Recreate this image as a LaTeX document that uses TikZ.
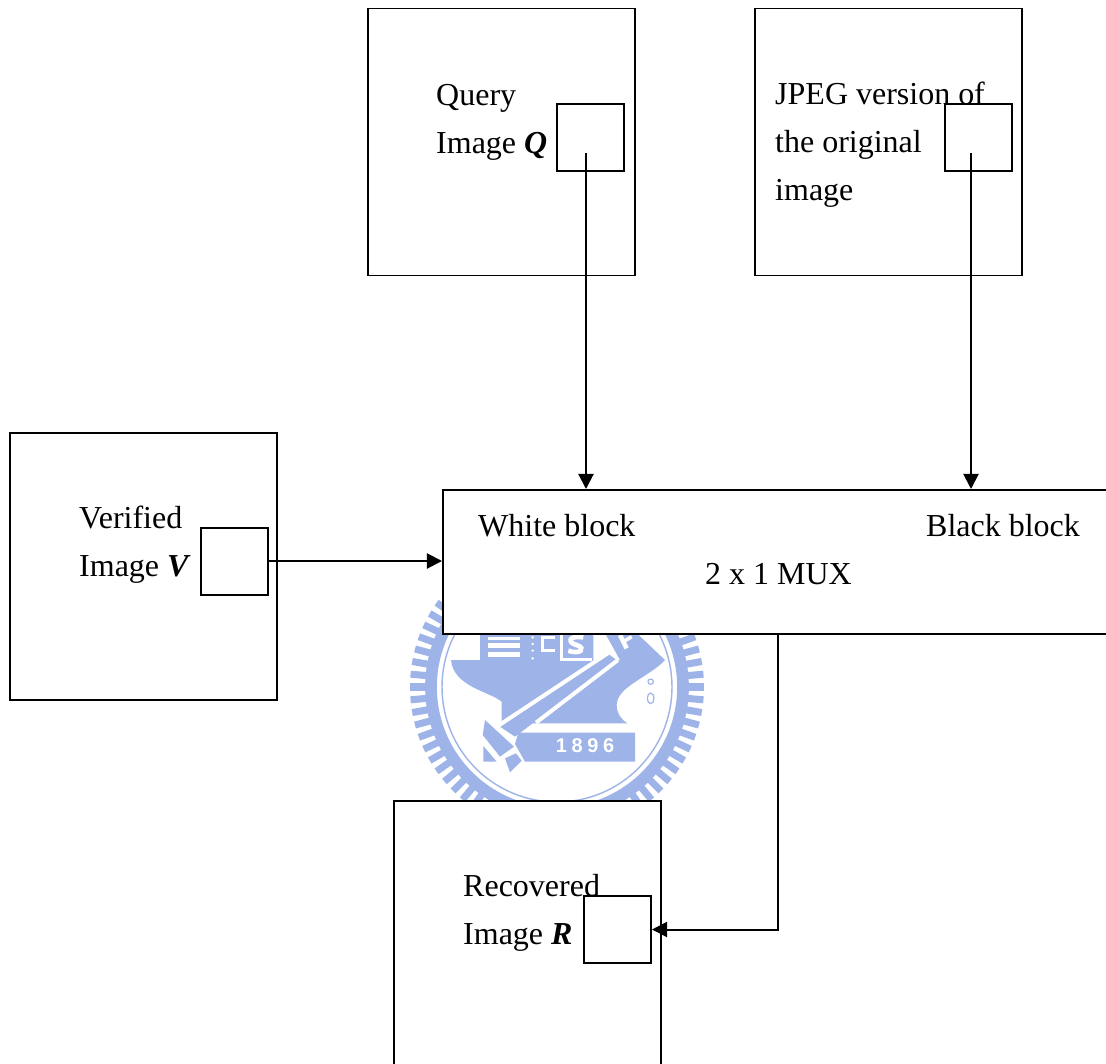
\documentclass[tikz,border=0pt]{standalone}
\usepackage{fontspec}
\setmainfont{Liberation Serif}
\newfontfamily\badgefont{Liberation Sans}
\usetikzlibrary{arrows.meta}
\definecolor{badgeblue}{RGB}{158,180,232}
\tikzset{
  imagebox/.style={draw, line width=1.7pt, fill=white, minimum size=267*0.03cm, inner sep=0pt},
  blockbox/.style={draw, line width=1.7pt, minimum size=67*0.03cm, inner sep=0pt},
  muxbox/.style={draw, line width=1.7pt, fill=white, minimum width=700*0.03cm, minimum height=144*0.03cm, inner sep=0pt},
  label/.style={anchor=base west, inner sep=0pt, font=\fontsize{27.3}{30}\selectfont},
  link/.style={line width=1.7pt, -{Triangle[length=13pt,width=13pt]}}
}
\begin{document}
\begin{tikzpicture}[x=0.03cm, y=-0.03cm]
  \useasboundingbox (0,0) rectangle (1106,1064);
  \fill[white] (0,0) rectangle (1106,1064);

  % Watermark behind the boxes
  \begin{scope}[badgeblue]
    \foreach \a in {0,5,...,355}
      \draw[line width=6pt] (557+147*cos \a, 687+147*sin \a) -- (557+125*cos \a, 687+125*sin \a);
    \draw[line width=10pt] (557,687) circle (126);
    \draw[line width=1.2pt] (557,687) circle (115);
    \begin{scope}[shift={(390,580)}, scale=1/3]
      % Anvil and building
      \fill (270,150) -- (610,150) -- (610,240) -- (825,240)
        .. controls (780,290) and (680,320) .. (680,375)
        .. controls (680,400) and (695,420) .. (712,430) -- (335,430) -- (335,365)
        .. controls (300,335) and (190,320) .. (183,240) -- (270,240) -- cycle;
      \fill (640,150) -- (730,150) -- (825,240) -- (690,240) -- cycle;
      \fill[white] (295,170) rectangle (390,180);
      \fill[white] (295,190) rectangle (390,205);
      \fill[white] (295,215) rectangle (390,230);
      \foreach \y in {172,192,212,235}
        \fill[white] (428,\y) circle (4);
      \draw[white, line width=3pt] (495,172) -- (458,172) -- (458,212) -- (495,212);
      \draw[white, line width=3pt] (515,150) -- (515,238) -- (606,238);
      \draw[white, line width=4pt] (580,172) .. controls (530,165) and (535,190) .. (560,195)
        .. controls (590,205) and (570,225) .. (535,212);
      \draw[white, line width=4pt] (690,165) -- (710,205);
      \draw[white, line width=3pt] (700,185) -- (725,170);
      % Chain
      \draw[line width=1pt] (782,305) circle (8);
      \draw[line width=1pt] (782,355) ellipse (10 and 16);
      % Sword
      \fill (655,222) -- (680,240) -- (375,470) -- (330,440) -- cycle;
      \draw[white, line width=3.4pt] (662,214) -- (325,437);
      \draw[white, line width=3.4pt] (684,240) -- (438,428);
      \fill (285,420) -- (372,500) -- (330,530) -- (278,465) -- cycle;
      \fill (345,535) -- (378,520) -- (395,542) -- (360,577) -- cycle;
      \fill (280,498) -- (320,545) -- (280,545) -- cycle;
      \fill (385,458) -- (735,458) -- (735,545) -- (405,545) -- (375,492) -- cycle;
    \end{scope}
    \node[text=white, font=\badgefont\bfseries\fontsize{17}{17}\selectfont] (badgeyear) at (585,746) {1\hspace{4pt}8\hspace{4pt}9\hspace{4pt}6};
  \end{scope}

  % Image boxes
  \node[imagebox] (query) at (501.5,142) {};
  \node[imagebox] (jpeg) at (888,142) {};
  \node[imagebox] (verified) at (143.5,566.5) {};
  \node[imagebox] (recovered) at (527.5,934.5) {};

  % Blocks inside the images
  \node[blockbox] (queryblock) at (590.5,137.5) {};
  \node[blockbox] (jpegblock) at (978,137.5) {};
  \node[blockbox] (verifiedblock) at (234.5,561.5) {};
  \node[blockbox] (recoveredblock) at (617.5,929.5) {};

  % MUX runs off the right side
  \node[muxbox, anchor=north west] (mux) at (442,489) {};

  % Texts
  \node[label] (querytop) at (436,105) {Query};
  \node[label] (querybottom) at (436,153) {Image \textbf{\textit{Q}}};
  \node[label] (jpegtop) at (775,104) {JPEG version of};
  \node[label] (jpegmiddle) at (775,152) {the original};
  \node[label] (jpegbottom) at (775,200) {image};
  \node[label] (verifiedtop) at (79,528) {Verified};
  \node[label] (verifiedbottom) at (79,576) {Image \textbf{\textit{V}}};
  \node[label] (recoveredtop) at (463,896) {Recovered};
  \node[label] (recoveredbottom) at (463,944) {Image \textbf{\textit{R}}};
  \node[label] (whiteblock) at (478,536) {White block};
  \node[label] (blackblock) at (926,536) {Black block};
  \node[label] (muxname) at (705,584) {2 x 1 MUX};

  % Connectors
  \coordinate (querystart) at (586,153);
  \coordinate (jpegstart) at (971,153);
  \coordinate (muxwhite) at (586,489);
  \coordinate (muxblack) at (971,489);
  \coordinate (muxout) at (778,633);
  \coordinate (muxin) at (442,561);
  \draw[link] (querystart) -- (muxwhite);
  \draw[link] (jpegstart) -- (muxblack);
  \draw[link] (verifiedblock.east |- muxin) -- (muxin);
  \draw[link] (muxout) |- (recoveredblock.east);
\end{tikzpicture}
\end{document}
